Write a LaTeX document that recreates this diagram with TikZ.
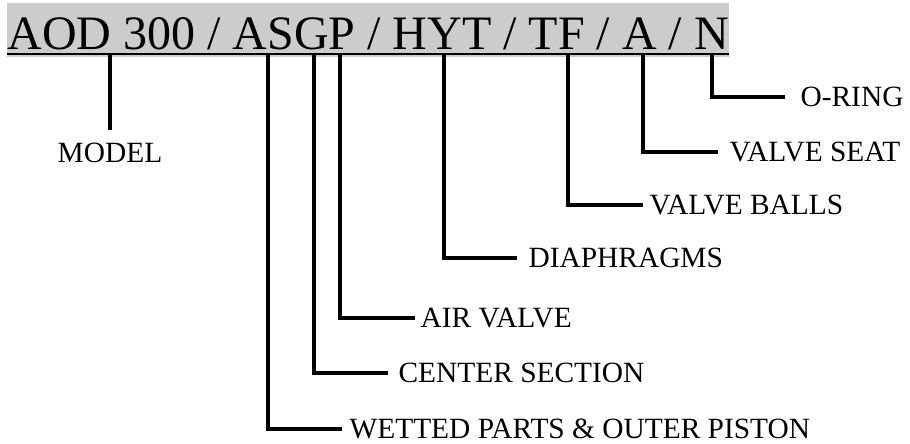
\documentclass[tikz,border=0pt]{standalone}
\usepackage{fontspec}
\setmainfont{Liberation Serif}
\usepackage{tkz-euclide}
\definecolor{HeaderClr}{RGB}{204,204,204}

\begin{document}
\begin{tikzpicture}[x=1pt,y=-1pt,line width=3.2pt,
  PartLbl/.style={anchor=west,inner xsep=7pt,inner ysep=0pt,
    font=\fontsize{29.4}{31}\selectfont}]
\useasboundingbox (0,0) rectangle (910,444);

% header bar with the order code
\fill[HeaderClr] (7,3) rectangle (729,57);
\node[anchor=base west,inner sep=0pt,font=\fontsize{48}{50}\selectfont]
  (code) at (6,49) {AOD 300 / ASGP / HYT / TF / A / N};
\draw[line width=2.8pt] (7,54) -- (729,54);

% tap points under the code
\tkzDefPoints{110/55/M,268/55/W,314/55/C,340/55/V,444/55/D,568/55/B,643/55/S,712/55/R}

% part labels
\node[PartLbl,anchor=north,inner ysep=11pt] (model) at (110,130) {MODEL};
\node[PartLbl,inner xsep=14pt] (oring) at (785,97) {O-RING};
\node[PartLbl,inner xsep=10pt] (seat) at (718,152) {VALVE SEAT};
\node[PartLbl,inner xsep=5pt] (balls) at (643,205) {VALVE BALLS};
\node[PartLbl,inner xsep=10pt] (diaph) at (517,258) {DIAPHRAGMS};
\node[PartLbl,inner xsep=4pt] (air) at (415,318) {AIR VALVE};
\node[PartLbl,inner xsep=9pt] (center) at (388,373) {CENTER SECTION};
\node[PartLbl,inner xsep=6pt] (wetted) at (342,429) {WETTED PARTS \& OUTER PISTON};

% connectors
\draw (M) -- (model.north);
\draw (R) |- (oring.west);
\draw (S) |- (seat.west);
\draw (B) |- (balls.west);
\draw (D) |- (diaph.west);
\draw (V) |- (air.west);
\draw (C) |- (center.west);
\draw (W) |- (wetted.west);

\end{tikzpicture}
\end{document}
